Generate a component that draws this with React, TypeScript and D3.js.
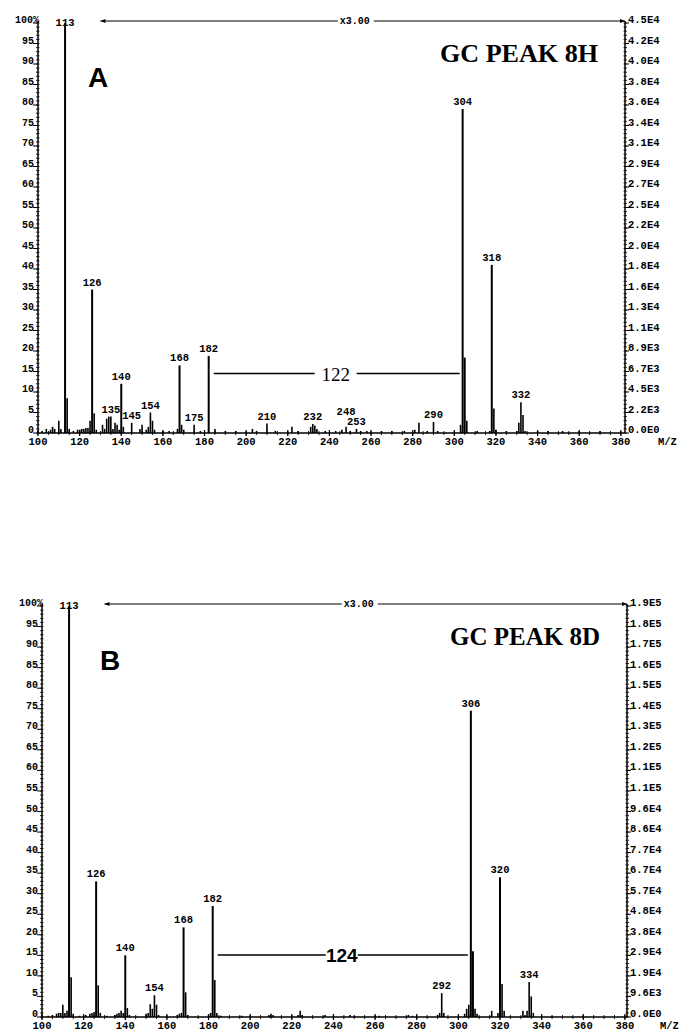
import React from "react";
import * as d3 from "d3";

// m/z, relative abundance (%)
const peaksA: [number, number][] = [
  [102, 0.5], [104, 1], [106, 0.8], [107, 1.5], [108, 1], [110, 3], [111, 1], [113, 100], [114, 8.5],
  [115, 1], [117, 0.5], [119, 0.8], [120, 0.8], [121, 1], [122, 1], [123, 1.2], [124, 1.2], [125, 3],
  [126, 35], [127, 4.8], [128, 0.8], [131, 2], [132, 1], [133, 3.5], [134, 4], [135, 4], [136, 1],
  [137, 2.5], [138, 2], [139, 0.8], [140, 12], [141, 1.5], [145, 2.5], [149, 1], [150, 2], [152, 0.8],
  [153, 1.5], [154, 5], [155, 3], [156, 0.8], [160, 0.5], [163, 0.5], [167, 1], [168, 16.5], [169, 2],
  [170, 0.8], [175, 2], [178, 0.5], [182, 18.8], [185, 1], [190, 0.5], [195, 0.5], [203, 1], [205, 0.5],
  [210, 2.3], [214, 0.5], [222, 1.5], [225, 0.5], [231, 1.5], [232, 2.2], [233, 1.8], [234, 1],
  [238, 0.5], [243, 0.5], [246, 0.8], [248, 1.5], [250, 0.5], [253, 1], [255, 0.5], [258, 0.5],
  [265, 0.5], [270, 0.5], [276, 0.5], [281, 0.8], [283, 2.5], [287, 0.5], [290, 2.7], [292, 0.5],
  [303, 2], [304, 79], [305, 18.4], [306, 3], [311, 0.5], [317, 0.5], [318, 41], [319, 6], [320, 0.8],
  [325, 0.5], [330, 0.5], [331, 2.5], [332, 7.5], [333, 4.4], [334, 0.5], [340, 0.5], [345, 0.5],
  [352, 0.5], [360, 0.5], [370, 0.5],
];

const peaksB: [number, number][] = [
  [103, 0.3], [105, 0.5], [107, 0.8], [108, 1], [109, 1], [110, 3], [111, 1], [112, 1.5], [113, 100],
  [114, 9.7], [115, 0.8], [118, 0.3], [121, 0.5], [123, 0.8], [124, 1], [125, 1.2], [126, 33],
  [127, 7.7], [128, 1], [131, 0.3], [135, 0.5], [136, 0.8], [137, 1], [138, 1.5], [139, 1], [140, 15],
  [141, 2.2], [142, 0.5], [150, 0.8], [151, 1], [152, 3.1], [153, 2], [154, 5.3], [155, 3], [156, 0.5],
  [165, 0.5], [166, 0.8], [167, 1], [168, 21.8], [169, 6], [170, 0.5], [180, 0.5], [181, 1], [182, 27],
  [183, 9], [184, 1], [186, 0.3], [196, 0.3], [209, 0.5], [210, 0.8], [211, 0.5], [223, 0.5],
  [224, 1.5], [225, 0.5], [236, 0.5], [248, 0.5], [250, 0.3], [262, 0.3], [276, 0.5], [278, 0.3],
  [290, 0.5], [291, 1], [292, 5.8], [293, 1], [303, 0.8], [304, 2], [305, 3], [306, 74.5], [307, 16],
  [308, 2], [309, 0.8], [316, 1.5], [319, 1], [320, 34], [321, 8], [322, 1.5], [331, 1.5], [332, 0.5],
  [333, 1.5], [334, 8.5], [335, 5], [336, 1], [345, 0.3], [360, 0.3],
];

const labelsA = [113, 126, 135, 140, 145, 154, 168, 175, 182, 210, 232, 248, 253, 290, 304, 318, 332];
const labelsB = [113, 126, 140, 154, 168, 182, 292, 306, 320, 334];

const rightTicksA = [
  "4.5E4", "4.2E4", "4.0E4", "3.8E4", "3.6E4", "3.4E4", "3.1E4", "2.9E4", "2.7E4", "2.5E4", "2.2E4",
  "2.0E4", "1.8E4", "1.6E4", "1.3E4", "1.1E4", "8.9E3", "6.7E3", "4.5E3", "2.2E3", "0.0E0",
];
const rightTicksB = [
  "1.9E5", "1.8E5", "1.7E5", "1.6E5", "1.5E5", "1.4E5", "1.3E5", "1.2E5", "1.1E5", "1.1E5", "9.6E4",
  "8.6E4", "7.7E4", "6.7E4", "5.7E4", "4.8E4", "3.8E4", "2.9E4", "1.9E4", "9.6E3", "0.0E0",
];

const xTicks = d3.range(100, 381, 20);
const leftTicks = d3.range(0, 101, 5);

const lossA = { from: 182, to: 304, level: 14.5, label: "122" };
const lossB = { from: 182, to: 306, level: 15.1, label: "124" };

const MONO = "'Liberation Mono', 'DejaVu Sans Mono', monospace";
const SERIF = "'Liberation Serif', 'Times New Roman', serif";
const SANS = "'Liberation Sans', Arial, sans-serif";

type PanelProps = {
  peaks: [number, number][];
  labels: number[];
  rightTicks: string[];
  loss: { from: number; to: number; level: number; label: string };
  letter: string;
  title: string;
  lossFont: string;
  left: number;
  right: number;
  top: number;
  bottom: number;
  xMax: number;
  letterX: number;
  titleX: number;
  titleW: number;
};

function Panel(p: PanelProps) {
  const x = d3.scaleLinear().domain([100, p.xMax]).range([p.left, p.right]);
  const y = d3.scaleLinear().domain([0, 100]).range([p.bottom, p.top]);
  const lineY = p.top - 2;

  // peak labels, resolved right to left so that crowded ones are pushed up
  const lookup = new Map(p.peaks);
  const placed: { mz: number; lx: number; ly: number }[] = [];
  [...p.labels].sort((a, b) => b - a).forEach((mz) => {
    const lx = x(mz);
    let ly = Math.max(y(lookup.get(mz) || 0) - 4, p.top + 3);
    placed.forEach((q) => {
      if (Math.abs(q.lx - lx) < 19 && Math.abs(q.ly - ly) < 10) ly = q.ly - 10;
    });
    placed.push({ mz, lx, ly });
  });

  const mid = (x(p.loss.from) + x(p.loss.to)) / 2;
  const ly = y(p.loss.level);
  const gap = p.lossFont === SERIF ? 21 : 16;

  return (
    <g>
      {/* left axis */}
      <line x1={p.left} x2={p.left} y1={lineY} y2={p.bottom} stroke="#000" strokeWidth={1.5} />
      {d3.range(0, 101, 1).map((v) => (
        <line key={"lm" + v} x1={p.left - 2} x2={p.left + 1.5} y1={y(v)} y2={y(v)} stroke="#000" strokeWidth={0.8} />
      ))}
      {leftTicks.map((v) => (
        <g key={"lt" + v}>
          <line x1={p.left - 5} x2={p.left} y1={y(v)} y2={y(v)} stroke="#000" strokeWidth={1} />
          <text
            x={v === 100 ? p.left + 1 : p.left - 4}
            y={y(v)}
            textAnchor="end"
            fontFamily={MONO}
            fontWeight="bold"
            fontSize={10}
          >
            {v === 100 ? "100%" : v}
          </text>
        </g>
      ))}

      {/* right axis */}
      <line x1={p.right} x2={p.right} y1={lineY} y2={p.bottom} stroke="#000" strokeWidth={1.5} />
      {d3.range(0, 101, 1).map((v) => (
        <line key={"rm" + v} x1={p.right - 1.5} x2={p.right + 2} y1={y(v)} y2={y(v)} stroke="#000" strokeWidth={0.8} />
      ))}
      {p.rightTicks.map((t, i) => {
        const v = 100 - i * 5;
        return (
          <g key={"rt" + i}>
            <line x1={p.right} x2={p.right + 4} y1={y(v)} y2={y(v)} stroke="#000" strokeWidth={1} />
            <text x={p.right + 3} y={y(v)} fontFamily={MONO} fontWeight="bold" fontSize={10.5}>
              {t}
            </text>
          </g>
        );
      })}

      {/* x axis */}
      <line x1={p.left} x2={p.right} y1={p.bottom} y2={p.bottom} stroke="#000" strokeWidth={1.5} />
      {d3.range(100, p.xMax, 5).map((v) => (
        <line key={"xm" + v} x1={x(v)} x2={x(v)} y1={p.bottom - 2} y2={p.bottom + 2} stroke="#000" strokeWidth={0.9} />
      ))}
      {xTicks.map((v) => (
        <g key={"xt" + v}>
          <line x1={x(v)} x2={x(v)} y1={p.bottom - 3} y2={p.bottom + 3} stroke="#000" strokeWidth={1.2} />
          <text x={x(v)} y={p.bottom + 12} textAnchor="middle" fontFamily={MONO} fontWeight="bold" fontSize={10.5}>
            {v}
          </text>
        </g>
      ))}
      <text x={p.right + 33} y={p.bottom + 12} fontFamily={MONO} fontWeight="bold" fontSize={10.5}>
        M/Z
      </text>

      {/* magnification bar */}
      <line x1={x(130)} x2={p.right} y1={lineY} y2={lineY} stroke="#000" strokeWidth={1.2} />
      <path d={`M${x(130)},${lineY} l5,-2 v4 z`} fill="#000" />
      <path d={`M${p.right},${lineY} l-5,-2 v4 z`} fill="#000" />
      <rect x={x(245) - 2} y={lineY - 6} width={36} height={11} fill="#fff" />
      <text x={x(245)} y={lineY + 3} fontFamily={MONO} fontWeight="bold" fontSize={10}>
        x3.00
      </text>

      {/* spectrum */}
      {p.peaks.map(([mz, r]) => (
        <line
          key={"pk" + mz}
          x1={x(mz)}
          x2={x(mz)}
          y1={p.bottom}
          y2={y(r)}
          stroke="#000"
          strokeWidth={r > 10 ? 2 : 1.6}
        />
      ))}
      {placed.map((q) => (
        <text
          key={"pl" + q.mz}
          x={q.lx}
          y={q.ly}
          textAnchor="middle"
          fontFamily={MONO}
          fontWeight="bold"
          fontSize={10.5}
        >
          {q.mz}
        </text>
      ))}

      {/* neutral loss annotation */}
      <line x1={x(p.loss.from) + 5} x2={mid - gap} y1={ly} y2={ly} stroke="#000" strokeWidth={1.4} />
      <line x1={mid + gap} x2={x(p.loss.to) - 3} y1={ly} y2={ly} stroke="#000" strokeWidth={1.4} />
      <text
        x={mid}
        y={ly + 7}
        textAnchor="middle"
        fontFamily={p.lossFont}
        fontSize={19}
        fontWeight={p.lossFont === SANS ? "bold" : "normal"}
      >
        {p.loss.label}
      </text>

      {/* panel letter and title */}
      <text x={p.letterX} y={p.top + 64} fontFamily={SANS} fontWeight="bold" fontSize={28}>
        {p.letter}
      </text>
      <text
        x={p.titleX}
        y={p.top + 39}
        fontFamily={SERIF}
        fontWeight="bold"
        fontSize={25}
        textLength={p.titleW}
        lengthAdjust="spacingAndGlyphs"
      >
        {p.title}
      </text>
    </g>
  );
}

export default function App() {
  return (
    <svg
      width={681}
      height={1032}
      style={{ position: "absolute", left: 0, top: 0, background: "#fff" }}
    >
      <Panel
        peaks={peaksA}
        labels={labelsA}
        rightTicks={rightTicksA}
        loss={lossA}
        letter="A"
        title="GC PEAK 8H"
        lossFont={SERIF}
        left={38}
        right={625}
        top={23}
        bottom={433}
        xMax={382}
        letterX={88}
        titleX={440}
        titleW={158}
      />
      <Panel
        peaks={peaksB}
        labels={labelsB}
        rightTicks={rightTicksB}
        loss={lossB}
        letter="B"
        title="GC PEAK 8D"
        lossFont={SANS}
        left={42}
        right={627}
        top={606}
        bottom={1017}
        xMax={381}
        letterX={100}
        titleX={450}
        titleW={150}
      />
    </svg>
  );
}
